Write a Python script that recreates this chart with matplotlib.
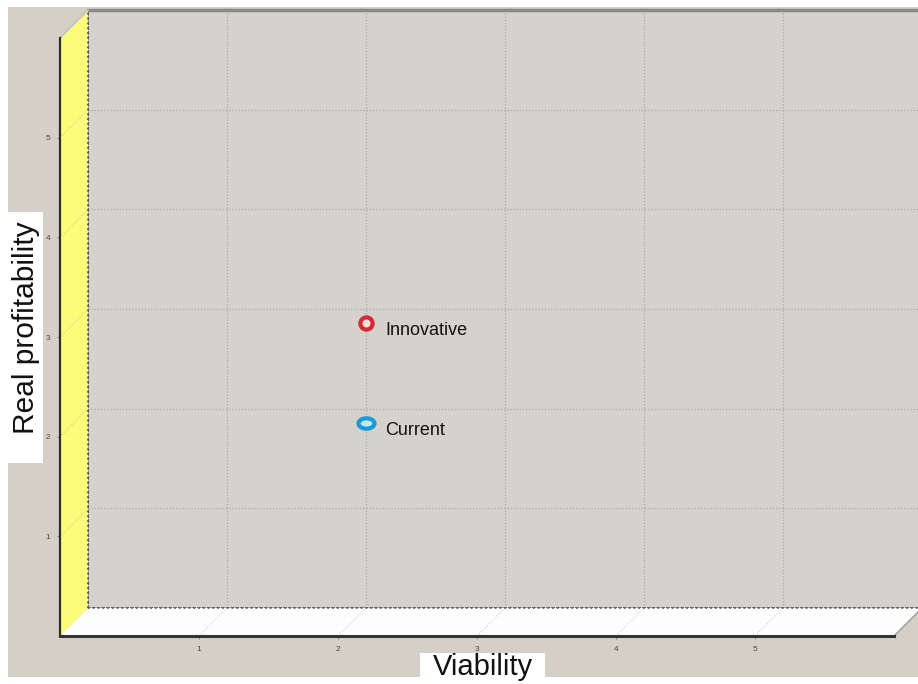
import matplotlib
matplotlib.use("Agg")
import matplotlib.pyplot as plt
from matplotlib.patches import Rectangle, Polygon
from matplotlib.path import Path
from matplotlib.lines import Line2D
import matplotlib.transforms as mtrans

# ---- data ----
names = ["Innovative", "Current"]
viability = [2.1, 2.1]
profitability = [3.0, 2.0]
x_ticks = [1, 2, 3, 4, 5]
y_ticks = [1, 2, 3, 4, 5]
x_label = "Viability"
y_label = "Real profitability"
edge_colors = ["#d42a35", "#1a9ad6"]
face_colors = ["#f6dcdc", "#bfe9f6"]

W, H, DPI = 918, 684, 100
plt.rcParams["font.family"] = ["Liberation Sans", "DejaVu Sans"]
fig = plt.figure(figsize=(W / DPI, H / DPI), dpi=DPI, facecolor="white")


def fx(px):
    return px / W


def fy(py):
    return 1 - py / H


# grey panel background
fig.patches.append(Rectangle((fx(8), fy(677)), fx(918) - fx(8), fy(7) - fy(677),
                             transform=fig.transFigure, facecolor="#d4d0c8",
                             edgecolor="none", zorder=-5))

D = 28  # depth offset in pixels
# back wall axes
ax = fig.add_axes([fx(88), fy(608), (922 - 88) / W, (608 - 10) / H])
ax.set_xlim(0, 6)
ax.set_ylim(0, 6)
ax.set_facecolor("#d5d2cb")
ax.set_zorder(1)
ax.set_xticks(x_ticks)
ax.set_yticks(y_ticks)
ax.tick_params(length=0, labelbottom=False, labelleft=False)
ax.grid(True, color="#aeaba5", linestyle=(0, (1, 1.5)), linewidth=0.9)
ax.spines["right"].set_visible(False)
ax.spines["top"].set_color("#8a8985")
ax.spines["top"].set_linewidth(2.5)
for s in ["left", "bottom"]:
    ax.spines[s].set_color("#555555")
    ax.spines[s].set_linestyle(":")
    ax.spines[s].set_linewidth(1.3)

# front axes (for ticks / front edges)
axf = fig.add_axes([fx(88 - D), fy(608 + D), (922 - 88) / W, (608 - 10) / H])
axf.set_xlim(0, 6)
axf.set_ylim(0, 6)
axf.patch.set_visible(False)
axf.set_zorder(3)
axf.set_xticks(x_ticks)
axf.set_yticks(y_ticks)
axf.set_xticklabels([str(t) for t in x_ticks])
axf.set_yticklabels([str(t) for t in y_ticks])
axf.tick_params(length=2, width=0.6, color="#777777", labelsize=6,
                labelcolor="#4a4a4a", pad=5)
axf.spines["right"].set_visible(False)
axf.spines["top"].set_visible(False)
axf.spines["left"].set_color("#2e2e2e")
axf.spines["left"].set_linewidth(1.6)
axf.spines["bottom"].set_color("#333333")
axf.spines["bottom"].set_linewidth(2.2)


def pb(x, y):
    return tuple(ax.transData.transform((x, y)))


def pf(x, y):
    return tuple(axf.transData.transform((x, y)))


ident = mtrans.IdentityTransform()
x0, x1 = ax.get_xlim()
y0, y1 = ax.get_ylim()
# yellow side wall
wall = Polygon([pf(x0, y0), pf(x0, y1), pb(x0, y1), pb(x0, y0)], closed=True,
               facecolor="#fcfc7a", edgecolor="none", transform=ident, zorder=2)
fig.patches.append(wall)
fig.lines.append(Line2D([pf(x0, y1)[0], pb(x0, y1)[0]], [pf(x0, y1)[1], pb(x0, y1)[1]],
                        color="#c4c2bb", lw=1.2, transform=ident, zorder=2.1))
# white floor
floor = Polygon([pf(x0, y0), pf(x1, y0), pb(x1, y0), pb(x0, y0)], closed=True,
                facecolor="#fdfdfd", edgecolor="none", transform=ident, zorder=2)
fig.patches.append(floor)
fig.lines.append(Line2D([pf(x1, y0)[0], pb(x1, y0)[0]], [pf(x1, y0)[1], pb(x1, y0)[1]],
                        color="#9a9a9a", lw=1.0, transform=ident, zorder=2.1))
# projected grid on wall and floor
for t in y_ticks:
    a, b = pf(x0, t), pb(x0, t)
    fig.lines.append(Line2D([a[0], b[0]], [a[1], b[1]], color="#cfcf90",
                            lw=0.8, ls=(0, (1, 1.5)), transform=ident, zorder=2.1))
for t in x_ticks:
    a, b = pf(t, y0), pb(t, y0)
    fig.lines.append(Line2D([a[0], b[0]], [a[1], b[1]], color="#cccccc",
                            lw=0.8, ls=(0, (1, 1.5)), transform=ident, zorder=2.1))
# back-bottom and back-left dotted edges over the patches
fig.lines.append(Line2D([pb(x0, y0)[0], pb(x1, y0)[0]], [pb(x0, y0)[1], pb(x1, y0)[1]],
                        color="#666666", lw=1.3, ls=":", transform=ident, zorder=2.2))
fig.lines.append(Line2D([pb(x0, y0)[0], pb(x0, y1)[0]], [pb(x0, y0)[1], pb(x0, y1)[1]],
                        color="#555555", lw=1.3, ls=":", transform=ident, zorder=2.2))

# points at mid depth
mid = mtrans.ScaledTranslation(-D / 2 / DPI, -D / 2 / DPI, fig.dpi_scale_trans)
ell = Path.unit_circle().transformed(mtrans.Affine2D().scale(1.0, 0.65))
markers = ["o", ell]
sizes = [8.8, 11.5]
for i in range(len(names)):
    ax.plot([viability[i]], [profitability[i]], marker=markers[i], ms=sizes[i],
            mec=edge_colors[i], mfc=face_colors[i], mew=3.0, ls="none",
            transform=ax.transData + mid, clip_on=False, zorder=5)
    ax.annotate(names[i], (viability[i], profitability[i]),
                xycoords=ax.transData + mid, xytext=(19, -12),
                textcoords="offset pixels", ha="left", va="baseline",
                fontsize=13, color="#111111", zorder=6)

# axis labels in white boxes
fig.patches.append(Rectangle((fx(8), fy(463)), fx(43) - fx(8), fy(212) - fy(463),
                             transform=fig.transFigure, facecolor="white",
                             edgecolor="none", zorder=4))
fig.text(fx(26), fy(328), y_label, rotation=90, ha="center", va="center",
         fontsize=21.5, color="#111111", zorder=5)
fig.patches.append(Rectangle((fx(420), fy(684)), fx(545) - fx(420), fy(653) - fy(684),
                             transform=fig.transFigure, facecolor="white",
                             edgecolor="none", zorder=2.9))
fig.text(fx(483), fy(667), x_label, ha="center", va="center",
         fontsize=21, color="#111111", zorder=5)

fig.savefig("out.png", dpi=DPI, facecolor="white")
